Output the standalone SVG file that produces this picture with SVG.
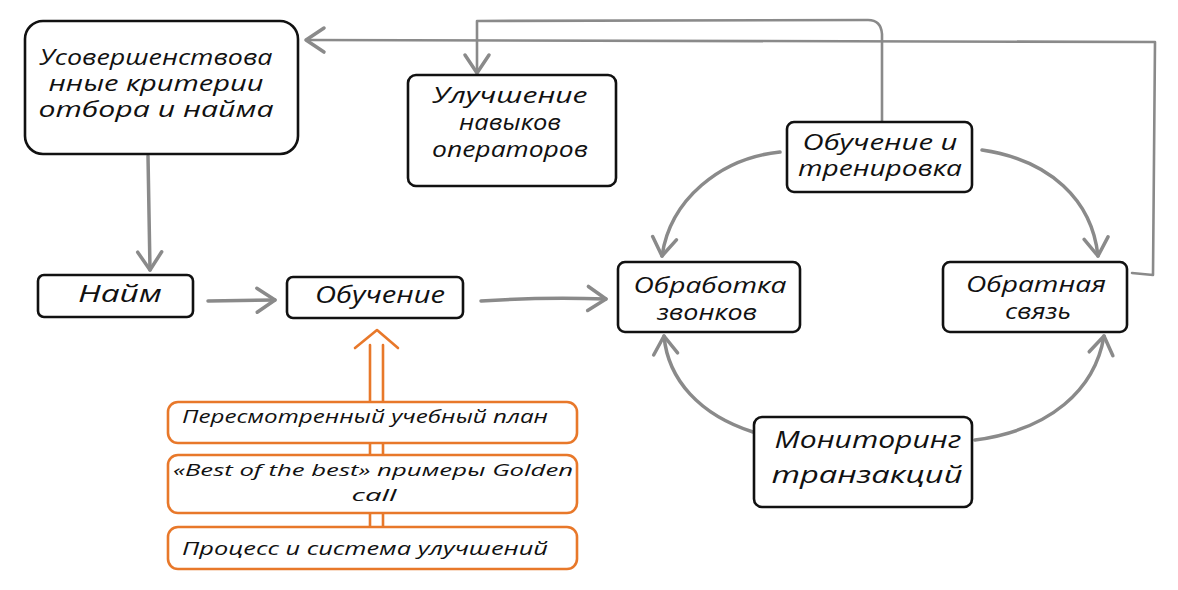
<svg xmlns="http://www.w3.org/2000/svg" width="1178" height="590" viewBox="0 0 1178 590">
<style>
.box{fill:#fff;stroke:#111;stroke-width:2.6;stroke-linejoin:round}
.obox{fill:#fff;stroke:#E8782A;stroke-width:2.6}
.t{font-family:"Open Sans","DejaVu Sans",sans-serif;font-style:italic;font-size:24px;fill:#111;text-anchor:middle}
.tm{font-family:"Open Sans","DejaVu Sans",sans-serif;font-style:italic;font-size:21px;fill:#111;text-anchor:middle}
.ot{font-family:"Open Sans","DejaVu Sans",sans-serif;font-style:italic;font-size:19px;fill:#111;text-anchor:middle}
.ot2{font-family:"Open Sans","DejaVu Sans",sans-serif;font-style:italic;font-size:17px;fill:#111;text-anchor:middle}
.c{fill:none;stroke:#8a8a8a;stroke-width:3.5;stroke-linecap:round;stroke-linejoin:round}
.c2{fill:none;stroke:#8a8a8a;stroke-width:2.6;stroke-linecap:round;stroke-linejoin:round}
.or{fill:none;stroke:#E8782A;stroke-width:2.6;stroke-linecap:round;stroke-linejoin:round}
</style>
<defs>
<marker id="ah" markerUnits="userSpaceOnUse" markerWidth="26" markerHeight="30" refX="21" refY="14" orient="auto" overflow="visible">
<path d="M3,2 L21,14 L3,26" fill="none" stroke="#8a8a8a" stroke-width="3.5" stroke-linecap="round" stroke-linejoin="round"/>
</marker>
</defs>

<g id="connectors">
<path class="c" d="M148,156 L150,270" marker-end="url(#ah)"/>
<path class="c" d="M208,301 L275,300" marker-end="url(#ah)"/>
<path class="c" d="M481,301 Q540,297 606,299" marker-end="url(#ah)"/>
<path class="c" d="M780,152 C720,158 670,200 662,256" marker-end="url(#ah)"/>
<path class="c" d="M982,150 C1050,160 1092,200 1098,256" marker-end="url(#ah)"/>
<path class="c" d="M753,432 C700,415 668,380 664,336" marker-end="url(#ah)"/>
<path class="c" d="M975,440 C1050,430 1095,390 1104,336" marker-end="url(#ah)"/>
<path class="c2" d="M1132,273 L1153,275 L1155,42 L306,40" marker-end="url(#ah)"/>
<path class="c2" d="M882,122 L882,34 Q881,20 868,20 L477,21 L477,73" marker-end="url(#ah)"/>
<g id="orange-arrow">
<path class="or" d="M370,345 L370,528 M383,345 L383,528"/>
<path class="or" d="M355,348 L377,330 L398,348"/>
</g>
</g>

<g id="n-criteria">
<rect class="box" x="25" y="21" width="273" height="133" rx="18"/>
<text class="tm"><tspan x="156" y="65" textLength="233" lengthAdjust="spacingAndGlyphs">Усовершенствова</tspan><tspan x="156" y="91" textLength="215" lengthAdjust="spacingAndGlyphs">нные критерии</tspan><tspan x="156" y="117" textLength="235" lengthAdjust="spacingAndGlyphs">отбора и найма</tspan></text>
</g>
<g id="n-skills">
<rect class="box" x="408" y="75" width="208" height="111" rx="8"/>
<text class="tm"><tspan x="510" y="103" textLength="155" lengthAdjust="spacingAndGlyphs">Улучшение</tspan><tspan x="510" y="130" textLength="102" lengthAdjust="spacingAndGlyphs">навыков</tspan><tspan x="510" y="157" textLength="156" lengthAdjust="spacingAndGlyphs">операторов</tspan></text>
</g>
<g id="n-training2">
<rect class="box" x="787" y="122" width="185" height="70" rx="7"/>
<text class="tm"><tspan x="880" y="150" textLength="155" lengthAdjust="spacingAndGlyphs">Обучение и</tspan><tspan x="880" y="176" textLength="164" lengthAdjust="spacingAndGlyphs">тренировка</tspan></text>
</g>
<g id="n-hire">
<rect class="box" x="38" y="275" width="155" height="42" rx="6"/>
<text class="t" x="120" y="302" textLength="84" lengthAdjust="spacingAndGlyphs">Найм</text>
</g>
<g id="n-training">
<rect class="box" x="287" y="277" width="176" height="41" rx="6"/>
<text class="t" x="380" y="303" textLength="130" lengthAdjust="spacingAndGlyphs">Обучение</text>
</g>
<g id="n-calls">
<rect class="box" x="618" y="262" width="182" height="70" rx="7"/>
<text class="tm"><tspan x="710" y="293" textLength="153" lengthAdjust="spacingAndGlyphs">Обработка</tspan><tspan x="707" y="320" textLength="100" lengthAdjust="spacingAndGlyphs">звонков</tspan></text>
</g>
<g id="n-feedback">
<rect class="box" x="943" y="262" width="184" height="70" rx="7"/>
<text class="tm"><tspan x="1036" y="292" textLength="140" lengthAdjust="spacingAndGlyphs">Обратная</tspan><tspan x="1038" y="319" textLength="66" lengthAdjust="spacingAndGlyphs">связь</tspan></text>
</g>
<g id="n-monitoring">
<rect class="box" x="754" y="417" width="218" height="90" rx="8"/>
<text class="t"><tspan x="868" y="448" textLength="187" lengthAdjust="spacingAndGlyphs">Мониторинг</tspan><tspan x="867" y="483" textLength="191" lengthAdjust="spacingAndGlyphs">транзакций</tspan></text>
</g>
<g id="o-plan">
<rect class="obox" x="168" y="402" width="409" height="41" rx="10"/>
<text class="ot" x="365" y="423" textLength="366" lengthAdjust="spacingAndGlyphs">Пересмотренный учебный план</text>
</g>
<g id="o-best">
<rect class="obox" x="168" y="455" width="409" height="58" rx="10"/>
<text class="ot2"><tspan x="373" y="476" textLength="400" lengthAdjust="spacingAndGlyphs">«Best of the best» примеры Golden</tspan><tspan x="374" y="501" textLength="45" lengthAdjust="spacingAndGlyphs">call</tspan></text>
</g>
<g id="o-process">
<rect class="obox" x="168" y="527" width="409" height="42" rx="10"/>
<text class="ot" x="365" y="555" textLength="366" lengthAdjust="spacingAndGlyphs">Процесс и система улучшений</text>
</g>
</svg>
